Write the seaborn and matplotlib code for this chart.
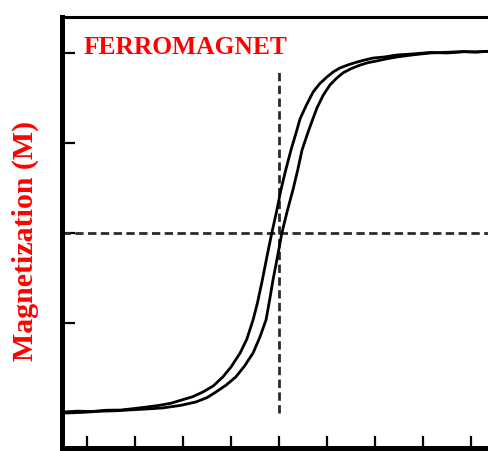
import matplotlib
matplotlib.use("Agg")
import matplotlib.pyplot as plt
import seaborn as sns
import pandas as pd

# ---- data (field H in tick units, normalised M) ----
H_descending = [-4.5, -4.2, -3.9, -3.6, -3.3, -3.0, -2.75, -2.5, -2.25, -2.05, -1.8,
                -1.58, -1.37, -1.17, -1.0, -0.81, -0.67, -0.54, -0.45, -0.35, -0.25,
                -0.15, -0.05, 0.04, 0.14, 0.25, 0.36, 0.44, 0.57, 0.71, 0.85, 1.0,
                1.13, 1.27, 1.45, 1.63, 1.8, 1.96, 2.2, 2.46, 2.8, 3.15, 3.5, 3.85,
                4.1, 4.4]
M_descending = [-0.995, -0.99, -0.992, -0.985, -0.984, -0.975, -0.967, -0.958, -0.946,
                -0.93, -0.91, -0.883, -0.85, -0.80, -0.745, -0.667, -0.59, -0.483,
                -0.39, -0.265, -0.13, 0.0, 0.12, 0.239, 0.35, 0.461, 0.56, 0.635,
                0.71, 0.783, 0.83, 0.867, 0.895, 0.917, 0.935, 0.95, 0.962, 0.972,
                0.978, 0.989, 0.995, 1.003, 1.0, 1.007, 1.005, 1.01]

H_ascending = [-4.5, -4.1, -3.7, -3.4, -3.1, -2.75, -2.42, -2.05, -1.73, -1.5, -1.31,
               -1.1, -0.9, -0.72, -0.54, -0.4, -0.27, -0.2, -0.125, -0.03, 0.06, 0.17,
               0.29, 0.39, 0.48, 0.6, 0.7, 0.79, 0.92, 1.06, 1.2, 1.33, 1.5, 1.69,
               1.85, 2.04, 2.25, 2.46, 2.8, 3.15, 3.5, 3.85, 4.1, 4.4]
M_ascending = [-1.0, -0.997, -0.99, -0.988, -0.983, -0.978, -0.972, -0.958, -0.939,
               -0.915, -0.883, -0.845, -0.80, -0.74, -0.667, -0.58, -0.483, -0.38,
               -0.261, -0.13, 0.0, 0.12, 0.239, 0.35, 0.461, 0.556, 0.63, 0.694,
               0.765, 0.822, 0.86, 0.889, 0.913, 0.933, 0.946, 0.956, 0.968, 0.978,
               0.99, 1.0, 1.004, 1.008, 1.006, 1.01]

x_ticks = [-4, -3, -2, -1, 0, 1, 2, 3, 4]
y_ticks = [-1.0, -0.5, 0.0, 0.5, 1.0]
ref_field = 0.0
ref_M = 0.0
vline_span = [-1.0, 0.9]
title_text = "FERROMAGNET"
ylabel_text = "Magnetization (M)"

df = pd.concat([
    pd.DataFrame({"H": H_descending, "M": M_descending, "branch": "desc"}),
    pd.DataFrame({"H": H_ascending, "M": M_ascending, "branch": "asc"}),
], ignore_index=True)

sns.set_style("white")
plt.rcParams["font.family"] = ["Liberation Serif", "DejaVu Serif"]

W, Hpx = 488, 451
fig = plt.figure(figsize=(W / 100, Hpx / 100), dpi=100)
left, right, top, bottom = 62.5, 488.0, 17.0, 447.5
ax = fig.add_axes([left / W, (Hpx - bottom) / Hpx, (right - left) / W, (bottom - top) / Hpx])

# dashed reference lines
ax.axhline(ref_M, color="#2a2a2a", lw=2.0, dashes=(3, 1.6), zorder=1)
ax.vlines(ref_field, vline_span[0], vline_span[1], color="#2a2a2a", lw=2.0,
          linestyles=(0, (3, 1.6)), zorder=1)

sns.lineplot(data=df, x="H", y="M", units="branch", estimator=None, sort=False,
             color="black", lw=2.0, ax=ax, zorder=3)

ax.set_xlim(-4.51, 4.354)
ax.set_ylim(-1.192, 1.2)
ax.set_xticks(x_ticks)
ax.set_yticks(y_ticks)
ax.tick_params(axis="both", direction="in", length=9, width=1.6, color="black",
               labelbottom=False, labelleft=False, bottom=True, left=True)
ax.set_xlabel("")
ax.set_ylabel("")

ax.spines["right"].set_visible(False)
for s in ["left", "bottom"]:
    ax.spines[s].set_linewidth(3.6)
    ax.spines[s].set_color("black")
ax.spines["top"].set_linewidth(2.2)
ax.spines["top"].set_color("black")

ax.text(-4.08, 0.994, title_text, color="red", fontsize=18.4, fontweight="bold",
        ha="left", va="baseline")

fig.text(25 / W, 1 - 241 / Hpx, ylabel_text, color="red", fontsize=21.5,
         fontweight="bold", rotation=90, ha="center", va="center")

fig.savefig("out.png", dpi=100)
